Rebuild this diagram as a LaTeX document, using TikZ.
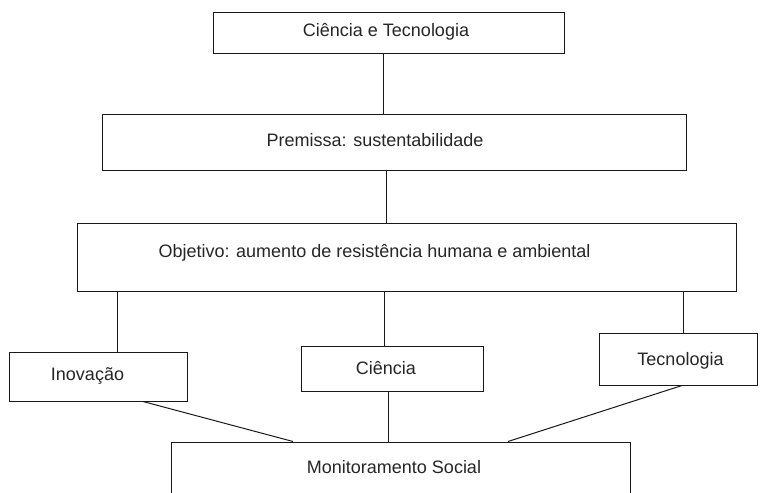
\documentclass[tikz,border=0pt]{standalone}
\usepackage{fontspec}
\setmainfont{Liberation Sans}
\begin{document}
\begin{tikzpicture}[x=1pt,y=-1pt,
  box/.style={draw=black!90, line width=1pt, inner sep=0pt, anchor=center},
  txt/.style={font=\fontsize{18}{22}\selectfont, text=black!85, inner sep=0pt, anchor=base},
  conn/.style={draw=black!90, line width=1pt}]
\useasboundingbox (0,0) rectangle (761,493);
\clip (0,0) rectangle (761,493);
\fill[white] (0,0) rectangle (761,493);

% boxes
\node[box, minimum width=351pt, minimum height=41pt] (ct) at (388.5,32.5) {};
\node[box, minimum width=584pt, minimum height=56pt] (prem) at (394,142) {};
\node[box, minimum width=659pt, minimum height=68pt] (obj) at (406.5,257) {};
\node[box, minimum width=178pt, minimum height=49pt] (inov) at (98,376.5) {};
\node[box, minimum width=182pt, minimum height=45pt] (cien) at (392,368.5) {};
\node[box, minimum width=158pt, minimum height=52pt] (tec) at (678,359) {};
\node[box, minimum width=459pt, minimum height=78pt] (mon) at (400.5,481) {};

% texts
\node[txt] (tct) at (386,36.5) {Ciência e Tecnologia};
\node[txt] (tprem) at (375,146) {Premissa: sustentabilidade};
\node[txt] (tobj) at (374.5,257) {Objetivo: aumento de resistência humana e ambiental};
\node[txt] (tinov) at (87.5,380.5) {Inovação};
\node[txt] (tcien) at (386,374) {Ciência};
\node[txt] (ttec) at (680.5,365) {Tecnologia};
\node[txt] (tmon) at (394,473.3) {Monitoramento Social};

% connector x positions
\coordinate (xa) at (383,0);
\coordinate (xb) at (386,0);
\coordinate (xc) at (117,0);
\coordinate (xd) at (683,0);
\coordinate (xe) at (384,0);
\coordinate (xf) at (388,0);
\coordinate (xg) at (143,0);
\coordinate (xh) at (293,0);
\coordinate (xi) at (682,0);
\coordinate (xj) at (508,0);

\draw[conn] (xa |- ct.south) -- (xa |- prem.north);
\draw[conn] (xb |- prem.south) -- (xb |- obj.north);
\draw[conn] (xc |- obj.south) -- (xc |- inov.north);
\draw[conn] (xe |- obj.south) -- (xe |- cien.north);
\draw[conn] (xd |- obj.south) -- (xd |- tec.north);
\draw[conn] (xg |- inov.south) -- (xh |- mon.north);
\draw[conn] (xf |- cien.south) -- (xf |- mon.north);
\draw[conn] (xi |- tec.south) -- (xj |- mon.north);
\end{tikzpicture}
\end{document}
